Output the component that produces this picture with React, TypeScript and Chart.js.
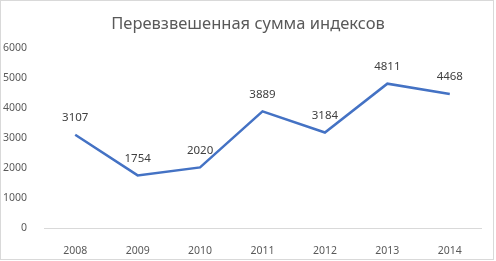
import React, { useEffect, useRef } from "react";
import { Chart, registerables } from "chart.js";

Chart.register(...registerables);

const TITLE = "Перевзвешенная сумма индексов";
const YEARS = ["2008", "2009", "2010", "2011", "2012", "2013", "2014"];
const VALUES = [3107, 1754, 2020, 3889, 3184, 4811, 4468];
const Y_MIN = 0;
const Y_MAX = 6000;
const Y_STEP = 1000;

const FONT = "'Noto Sans', 'DejaVu Sans', sans-serif";

const framePlugin = {
  id: "frame",
  beforeDraw(chart: any) {
    const ctx = chart.ctx;
    ctx.save();
    ctx.fillStyle = "#ffffff";
    ctx.fillRect(0, 0, chart.width, chart.height);
    ctx.strokeStyle = "#d9d9d9";
    ctx.lineWidth = 1;
    ctx.strokeRect(0.5, 0.5, 493, 259);
    ctx.fillStyle = "#595959";
    ctx.font = `16.5px ${FONT}`;
    ctx.textAlign = "center";
    ctx.textBaseline = "middle";
    ctx.fillText(TITLE, 248, 24);
    ctx.restore();
  },
};

const labelPlugin = {
  id: "pointLabels",
  afterDatasetsDraw(chart: any) {
    const ctx = chart.ctx;
    const meta = chart.getDatasetMeta(0);
    ctx.save();
    ctx.fillStyle = "#404040";
    ctx.font = `11.5px ${FONT}`;
    ctx.textAlign = "center";
    ctx.textBaseline = "middle";
    meta.data.forEach((pt: any, i: number) => {
      ctx.fillText(String(VALUES[i]), pt.x, pt.y - 17);
    });
    ctx.restore();
  },
};

export default function App() {
  const ref = useRef<HTMLCanvasElement>(null);
  useEffect(() => {
    document.body.style.margin = "0";
    const chart = new Chart(ref.current!, {
      type: "line",
      data: {
        labels: YEARS,
        datasets: [
          {
            data: VALUES,
            borderColor: "#4472C4",
            borderWidth: 2.5,
            pointRadius: 0,
            tension: 0,
            fill: false,
          },
        ],
      },
      options: {
        responsive: false,
        animation: false,
        layout: { padding: { top: 48, right: 15, bottom: 0, left: 0 } },
        plugins: {
          legend: { display: false },
          title: { display: false },
          tooltip: { enabled: false },
        },
        scales: {
          x: {
            offset: true,
            grid: { display: false },
            border: { display: true, color: "#d9d9d9", width: 1 },
            ticks: { color: "#595959", font: { family: FONT, size: 10.5 }, padding: 9, maxRotation: 0 },
            afterFit: (s: any) => {
              s.height = 33;
            },
          },
          y: {
            min: Y_MIN,
            max: Y_MAX,
            grid: { display: false },
            border: { display: false },
            ticks: {
              stepSize: Y_STEP,
              color: "#595959",
              font: { family: FONT, size: 10.5 },
              padding: 9,
              callback: (v: any) => String(v),
            },
            afterFit: (s: any) => {
              s.width = 44;
            },
          },
        },
      },
      plugins: [framePlugin, labelPlugin],
    });
    return () => chart.destroy();
  }, []);
  return <canvas ref={ref} width={496} height={261} style={{ display: "block" }} />;
}
